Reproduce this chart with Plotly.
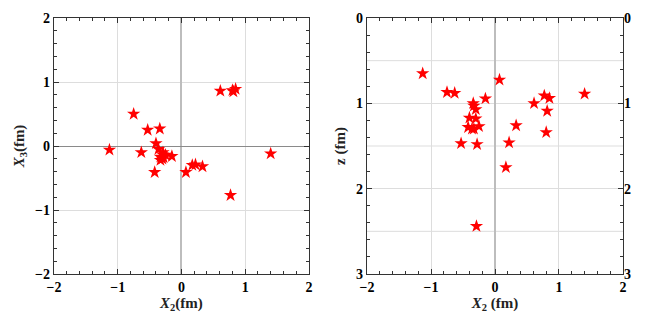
import plotly.graph_objects as go

# Point positions (fm)
x2 = [-1.13, -0.75, -0.63, -0.53, -0.42, -0.40, -0.36, -0.34, -0.33, -0.30, -0.30,
      -0.33, -0.25, -0.28, -0.29, -0.15, 0.07, 0.17, 0.22, 0.33, 0.61, 0.77, 0.85,
      0.815, 0.80, 1.40]
x3 = [-0.06, 0.50, -0.10, 0.25, -0.41, 0.04, -0.05, 0.27, -0.17, -0.13, -0.20,
      -0.22, -0.14, -0.18, -0.10, -0.16, -0.41, -0.30, -0.29, -0.32, 0.86, -0.77, 0.89,
      0.85, 0.87, -0.12]
z = [0.65, 0.87, 0.88, 1.47, 1.28, 1.17, 1.30, 1.00, 1.03, 1.07, 1.18,
     1.30, 1.27, 1.48, 2.44, 0.945, 0.725, 1.75, 1.46, 1.26, 1.00, 0.91, 0.94,
     1.09, 1.34, 0.89]

z_grid = [0.5, 1.5, 2.5]
z_ticks = [0, 1, 2, 3]

RED = '#ff0000'
FRAME = '#333333'
GRID = '#dddddd'
TICK_FONT = dict(family='Liberation Serif', size=14, color='black', weight='bold')

fig = go.Figure()

# half-step grid lines on the z panel
for g in z_grid:
    fig.add_shape(type='line', xref='x2 domain', x0=0, x1=1, yref='y2', y0=g, y1=g,
                  line=dict(color=GRID, width=1), layer='below')

fig.add_trace(go.Scatter(
    x=x2, y=x3, mode='markers', xaxis='x', yaxis='y',
    marker=dict(symbol='star', size=10, color=RED, line=dict(width=0)),
    showlegend=False
))
fig.add_trace(go.Scatter(
    x=x2, y=z, mode='markers', xaxis='x2', yaxis='y2',
    marker=dict(symbol='star', size=10, color=RED, line=dict(width=0)),
    showlegend=False
))
# invisible trace so the right-hand z axis labels are drawn
fig.add_trace(go.Scatter(x=[None], y=[None], xaxis='x2', yaxis='y3',
                         showlegend=False, hoverinfo='skip'))

frame = dict(
    showline=True, linecolor=FRAME, linewidth=1.3, mirror='ticks',
    ticks='inside', ticklen=5, tickwidth=1, tickcolor=FRAME,
    tickfont=TICK_FONT, gridcolor=GRID, gridwidth=1, automargin=False,
    minor=dict(ticks='inside', ticklen=3, tickcolor=FRAME, dtick=0.2, showgrid=False),
)

title_font = dict(family='Liberation Serif', size=15, color='#222', weight='bold')

# page body has an 8px margin, so the figure is a bit smaller than the window
fig.update_layout(
    width=640, height=314,
    margin=dict(l=46, r=25, t=10, b=48),
    plot_bgcolor='white', paper_bgcolor='white',
    xaxis=dict(frame, domain=[0, 0.448], range=[-2, 2], dtick=1, anchor='y',
               zeroline=True, zerolinecolor='#bdbdbd', zerolinewidth=2,
               title=dict(text='<i>X</i><sub>2</sub>(fm)', font=title_font, standoff=2)),
    yaxis=dict(frame, domain=[0, 1], range=[-2, 2], dtick=1, anchor='x',
               zeroline=True, zerolinecolor='#8a8a8a', zerolinewidth=1,
               title=dict(text='<i>X</i><sub>3</sub>(fm)', font=title_font, standoff=6)),
    xaxis2=dict(frame, domain=[0.5501, 1.0], range=[-2, 2], dtick=1, anchor='y2',
                zeroline=True, zerolinecolor='#bdbdbd', zerolinewidth=2,
                title=dict(text='<i>X</i><sub>2</sub> (fm)', font=title_font, standoff=2)),
    yaxis2=dict(frame, domain=[0, 1], range=[3, 0], tickvals=z_ticks, anchor='x2',
                zeroline=False,
                title=dict(text='z (fm)', font=title_font, standoff=6)),
    yaxis3=dict(overlaying='y2', side='right', anchor='x2', range=[3, 0],
                tickvals=z_ticks, ticks='', automargin=False,
                showgrid=False, zeroline=False, showline=False, tickfont=TICK_FONT),
)

fig.write_html('out.html')
